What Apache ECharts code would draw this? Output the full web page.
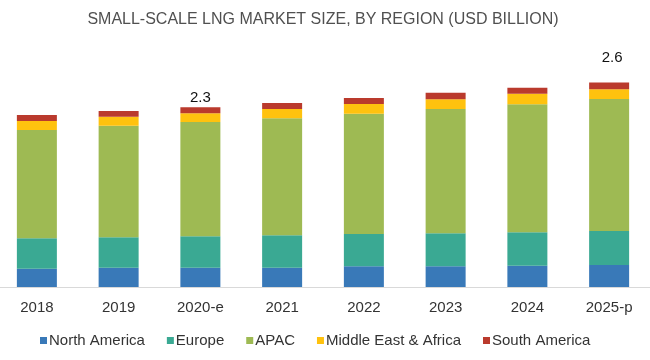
<!DOCTYPE html>
<html>
<head>
<meta charset="utf-8">
<script src="https://cdn.jsdelivr.net/npm/echarts@6/dist/echarts.min.js"></script>
<style>html,body{margin:0;padding:0;background:#fff;overflow:hidden}#c{width:654px;height:360px;margin-left:-4px}</style>
</head>
<body>
<div id="c"></div>
<script>
const categories = ['2018','2019','2020-e','2021','2022','2023','2024','2025-p'];
const northAmerica = [0.233,0.246,0.246,0.246,0.264,0.264,0.272,0.281];
const europe       = [0.388,0.388,0.400,0.413,0.412,0.421,0.426,0.434];
const apac         = [1.381,1.423,1.458,1.492,1.534,1.585,1.633,1.684];
const middleEast   = [0.115,0.115,0.111,0.119,0.124,0.124,0.135,0.124];
const southAmerica = [0.077,0.073,0.077,0.077,0.077,0.084,0.077,0.085];
const totalLabels  = ['','','2.3','','','','','2.6'];

const seriesNames = ['North America','Europe','APAC','Middle East & Africa','South America'];
const colors = ['#3979B8','#3AA993','#9EBA53','#FFC20E','#BA3A2D'];
const dataSets = [northAmerica, europe, apac, middleEast, southAmerica];

const series = dataSets.map((d, i) => ({
  name: seriesNames[i],
  type: 'bar',
  stack: 'total',
  barWidth: 40,
  itemStyle: { color: colors[i] },
  data: d.map((v, j) => {
    if (i === dataSets.length - 1 && totalLabels[j]) {
      return {
        value: v,
        label: {
          show: true, position: 'top', formatter: totalLabels[j],
          distance: j === 7 ? 17 : 2,
          offset: [j === 7 ? 3 : 0, 0],
          fontSize: 15, color: '#111', fontFamily: 'Liberation Sans'
        }
      };
    }
    return v;
  })
}));

const chart = echarts.init(document.getElementById('c'), null, { renderer: 'canvas' });
chart.setOption({
  animation: false,
  title: {
    text: 'SMALL-SCALE LNG MARKET SIZE, BY REGION (USD BILLION)',
    left: 'center', top: 7,
    textStyle: { fontSize: 16, fontWeight: 'normal', color: '#505050', fontFamily: 'Liberation Sans' }
  },
  legend: {
    bottom: 7, left: 39,
    itemWidth: 7, itemHeight: 7, itemGap: 22,
    icon: 'rect',
    textStyle: { fontSize: 15, color: '#333', fontFamily: 'Liberation Sans', padding: [0,0,0,-3] },
    data: seriesNames
  },
  grid: { left: 0, right: 0, top: 51.8, bottom: 73, containLabel: false },
  xAxis: {
    type: 'category', data: categories,
    axisLine: { lineStyle: { color: '#D9D9D9', width: 1 } },
    axisTick: { show: false },
    axisLabel: { fontSize: 15, color: '#333', margin: 13, fontFamily: 'Liberation Sans' }
  },
  yAxis: {
    type: 'value', min: 0, max: 3, show: false,
    splitLine: { show: false }
  },
  series: series
});
</script>
</body>
</html>
